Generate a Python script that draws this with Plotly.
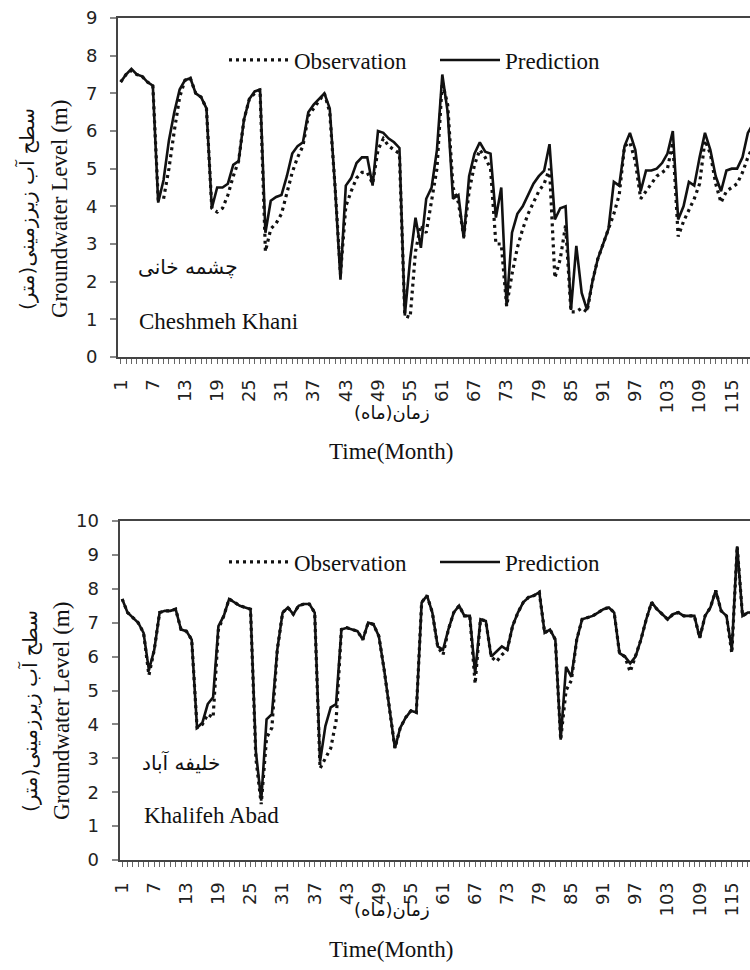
import plotly.graph_objects as go

months = list(range(1, 120))
tick_labels = [str(m) if (m - 1) % 6 == 0 else "" for m in months]

top_pred = [7.3, 7.5, 7.65, 7.5, 7.45, 7.3, 7.2, 4.1, 4.7, 5.75,
            6.5, 7.1, 7.35, 7.4, 7.0, 6.9, 6.6, 3.95, 4.5, 4.5,
            4.6, 5.1, 5.2, 6.3, 6.85, 7.05, 7.1, 3.3, 4.15, 4.25,
            4.3, 4.8, 5.4, 5.6, 5.7, 6.5, 6.7, 6.85, 7.0, 6.6,
            4.5, 2.05, 4.55, 4.75, 5.15, 5.3, 5.3, 4.55, 6.0, 5.95,
            5.8, 5.7, 5.55, 1.1, 2.6, 3.7, 2.9, 4.2, 4.5, 5.5,
            7.5, 6.5, 4.2, 4.3, 3.15, 4.8, 5.4, 5.7, 5.45, 5.4,
            3.7, 4.5, 1.35, 3.3, 3.8, 4.0, 4.3, 4.6, 4.8, 4.95,
            5.65, 3.65, 3.95, 4.0, 1.25, 2.95, 1.7, 1.25, 2.0, 2.6,
            3.0, 3.4, 4.65, 4.55, 5.6, 5.95, 5.5, 4.4, 4.95, 4.95,
            5.0, 5.15, 5.4, 6.0, 3.65, 4.0, 4.65, 4.55, 5.3, 5.95,
            5.5, 4.8, 4.4, 4.95, 5.0, 5.0, 5.3, 5.95, 6.2]

top_obs = [7.3, 7.5, 7.6, 7.5, 7.45, 7.3, 7.2, 4.2, 4.2, 5.0,
           6.0, 6.9, 7.35, 7.4, 7.0, 6.9, 6.6, 3.95, 3.85, 3.95,
           4.3, 4.8, 5.2, 6.3, 6.85, 7.0, 7.1, 2.8, 3.4, 3.55,
           3.8, 4.35, 4.9, 5.3, 5.6, 6.4, 6.6, 6.8, 7.0, 6.5,
           4.5, 2.2, 4.0, 4.4, 4.75, 4.9, 4.9, 4.6, 5.5, 5.8,
           5.6, 5.5, 5.4, 1.1, 1.05, 2.8, 3.5, 3.3, 4.2, 5.0,
           7.3, 6.7, 4.5, 4.1, 3.2, 4.4, 5.1, 5.5, 5.3, 5.0,
           3.0, 3.0, 1.35, 2.2, 2.9, 3.4, 3.8, 4.1, 4.4, 4.6,
           5.0, 2.1, 2.6, 3.5, 1.2, 1.2, 1.3, 1.2, 2.0, 2.6,
           3.0, 3.4, 3.8, 4.3, 5.6, 5.7, 5.2, 4.2, 4.4, 4.6,
           4.8, 4.9, 5.0, 5.7, 3.2, 3.6, 3.9, 4.2, 4.6, 5.75,
           5.4, 4.6, 4.1, 4.4, 4.5, 4.6, 4.9, 5.3, 5.6]

bot_pred = [7.7, 7.3, 7.15, 7.0, 6.7, 5.6, 6.2, 7.3, 7.35, 7.35,
            7.4, 6.8, 6.75, 6.5, 3.9, 4.05, 4.6, 4.8, 6.9, 7.2,
            7.7, 7.6, 7.5, 7.45, 7.4, 3.2, 1.75, 4.15, 4.3, 6.2,
            7.3, 7.45, 7.25, 7.5, 7.55, 7.55, 7.3, 2.9, 3.95, 4.5,
            4.6, 6.8, 6.85, 6.8, 6.75, 6.5, 7.0, 6.95, 6.6, 5.6,
            4.5, 3.3, 3.9, 4.2, 4.4, 4.35, 7.6, 7.8, 7.3, 6.3,
            6.2, 6.8, 7.3, 7.5, 7.2, 7.2, 5.5, 7.1, 7.05, 6.0,
            6.15, 6.3, 6.2, 6.9, 7.3, 7.6, 7.75, 7.8, 7.9, 6.7,
            6.8, 6.5, 3.55, 5.7, 5.4, 6.5, 7.1, 7.15, 7.2, 7.3,
            7.4, 7.45, 7.3, 6.1, 6.0, 5.8, 6.0, 6.5, 7.1, 7.6,
            7.4, 7.25, 7.1, 7.25, 7.3, 7.2, 7.2, 7.2, 6.55, 7.2,
            7.45, 7.95, 7.35, 7.2, 6.2, 9.25, 7.2, 7.3, 7.3]

bot_obs = [7.7, 7.3, 7.15, 7.0, 6.7, 5.45, 6.2, 7.3, 7.35, 7.35,
           7.4, 6.8, 6.75, 6.5, 3.9, 4.0, 4.3, 4.2, 6.8, 7.2,
           7.7, 7.6, 7.5, 7.45, 7.4, 3.0, 1.65, 3.6, 3.9, 6.2,
           7.3, 7.45, 7.25, 7.5, 7.55, 7.55, 7.3, 2.7, 3.0, 3.3,
           4.1, 6.8, 6.85, 6.8, 6.75, 6.5, 7.0, 6.95, 6.6, 5.6,
           4.5, 3.3, 3.9, 4.2, 4.4, 4.35, 7.6, 7.8, 7.3, 6.3,
           6.05, 6.8, 7.3, 7.5, 7.2, 7.2, 5.2, 7.1, 7.05, 6.0,
           5.85, 6.05, 6.2, 6.9, 7.3, 7.6, 7.75, 7.8, 7.9, 6.7,
           6.8, 6.5, 3.55, 5.0, 5.3, 6.5, 7.1, 7.15, 7.2, 7.3,
           7.4, 7.45, 7.3, 6.1, 6.0, 5.55, 6.0, 6.5, 7.1, 7.6,
           7.4, 7.25, 7.1, 7.25, 7.3, 7.2, 7.2, 7.2, 6.55, 7.2,
           7.45, 7.95, 7.35, 7.2, 6.1, 9.25, 7.2, 7.3, 7.3]

W, H = 750, 970
SERIF = "Liberation Serif, Times New Roman, serif"
SANS = "DejaVu Sans, sans-serif"
FARSI = "DejaVu Sans, Noto Sans, sans-serif"

def px(x):
    return x / W

def py(y):
    return 1 - y / H

obs_line = dict(color="#111111", width=3.2, dash="3px,4px")
pred_line = dict(color="#111111", width=2.6)

fig = go.Figure()
fig.add_trace(go.Scatter(x=months, y=top_obs, mode="lines", name="Observation",
                         line=obs_line, xaxis="x", yaxis="y", legend="legend"))
fig.add_trace(go.Scatter(x=months, y=top_pred, mode="lines", name="Prediction",
                         line=pred_line, xaxis="x", yaxis="y", legend="legend"))
fig.add_trace(go.Scatter(x=months, y=bot_obs, mode="lines", name="Observation",
                         line=obs_line, xaxis="x2", yaxis="y2", legend="legend2"))
fig.add_trace(go.Scatter(x=months, y=bot_pred, mode="lines", name="Prediction",
                         line=pred_line, xaxis="x2", yaxis="y2", legend="legend2"))

xcommon = dict(range=[0.5, 118.4], tickmode="array", tickvals=months, ticktext=tick_labels,
               tickangle=-90, ticks="outside", ticklen=5, tickwidth=1, tickcolor="#666666",
               showline=True, linecolor="#444444", linewidth=2, mirror=True,
               showgrid=False, zeroline=False, automargin=False, ticklabelstandoff=8,
               tickfont=dict(family=SANS, size=18, color="#222222"))
ycommon = dict(ticks="outside", ticklen=6, tickwidth=1.5, tickcolor="#888888",
               showline=True, linecolor="#444444", linewidth=2, mirror=False,
               showgrid=False, zeroline=False, dtick=1, ticklabelstandoff=9,
               automargin=False,
               tickfont=dict(family=SANS, size=18, color="#222222"))

legcommon = dict(orientation="h", xanchor="left", yanchor="middle",
                 font=dict(family=SERIF, size=23, color="#111111"),
                 bgcolor="rgba(0,0,0,0)", itemwidth=60, tracegroupgap=0,
                 entrywidth=136)

fig.update_layout(
    width=W, height=H,
    margin=dict(l=0, r=0, t=0, b=0, autoexpand=False),
    paper_bgcolor="white", plot_bgcolor="white",
    xaxis=dict(domain=[px(118), 1], anchor="y", **xcommon),
    yaxis=dict(domain=[py(357), py(18)], anchor="x", range=[0, 9], **ycommon),
    xaxis2=dict(domain=[px(119.5), 1], anchor="y2", **xcommon),
    yaxis2=dict(domain=[py(860), py(521)], anchor="x2", range=[0, 10], **ycommon),
    legend=dict(x=px(224), y=py(60), **legcommon),
    legend2=dict(x=px(224), y=py(562), **legcommon),
)

def ann(text, x, y, size, family, angle=0, xanchor="center"):
    fig.add_annotation(text=text, x=px(x), y=py(y), xref="paper", yref="paper",
                       showarrow=False, textangle=angle, xanchor=xanchor, yanchor="middle",
                       font=dict(family=family, size=size, color="#111111"))

# top panel texts
ann("Groundwater Level (m)", 59, 209, 23, SERIF, angle=-90)
ann("سطح آب زیرزمینی(متر)", 26, 209, 20, FARSI, angle=-90)
ann("چشمه خانی", 188, 267, 20, FARSI)
ann("Cheshmeh Khani", 137, 322, 23, SERIF, xanchor="left")
ann("زمان(ماه)", 392, 412, 18, FARSI)
ann("Time(Month)", 391, 451, 23, SERIF)

# bottom panel texts
ann("Groundwater Level (m)", 61, 711, 23, SERIF, angle=-90)
ann("سطح آب زیرزمینی(متر)", 29, 711, 20, FARSI, angle=-90)
ann("خلیفه آباد", 181, 762, 20, FARSI)
ann("Khalifeh Abad", 142, 815, 23, SERIF, xanchor="left")
ann("زمان(ماه)", 392, 909, 18, FARSI)
ann("Time(Month)", 391, 949, 23, SERIF)

fig.write_html("out.html")
